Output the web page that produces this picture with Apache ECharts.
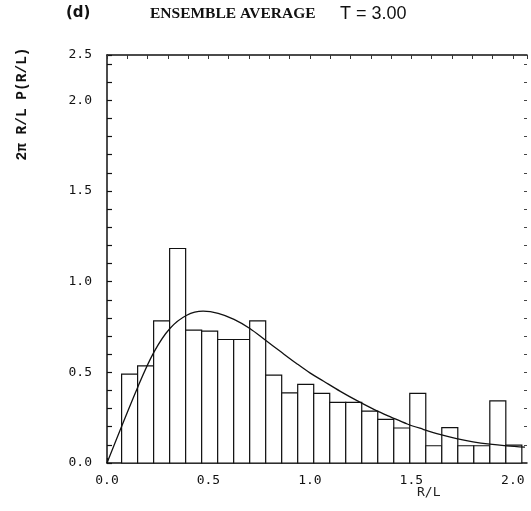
<!DOCTYPE html>
<html>
<head>
<meta charset="utf-8">
<script src="https://cdn.jsdelivr.net/npm/echarts@6/dist/echarts.min.js"></script>
<style>
  html, body { margin: 0; padding: 0; background: #fff; }
  #chart { width: 531px; height: 511px; }
</style>
</head>
<body>
<div id="chart"></div>
<script>
// ---- data ----
const binStart = 0.072;      // left edge of the first histogram bin (R/L)
const binWidth = 0.0789;     // width of each bin (R/L)
const barValues = [0.49, 0.536, 0.784, 1.183, 0.733, 0.727, 0.681, 0.681, 0.784, 0.485,
                   0.387, 0.434, 0.384, 0.334, 0.334, 0.286, 0.241, 0.193, 0.384, 0.095,
                   0.195, 0.095, 0.095, 0.343, 0.099];
const curveX = [0, 0.154, 0.232, 0.31, 0.393, 0.474, 0.548, 0.626, 0.704, 0.78, 0.857, 0.934,
                1.0, 1.066, 1.15, 1.23, 1.32, 1.402, 1.48, 1.558, 1.64, 1.723, 1.804, 1.887, 1.969, 2.06];
const curveY = [0, 0.425, 0.613, 0.742, 0.815, 0.837, 0.825, 0.792, 0.742, 0.678, 0.613, 0.549,
                0.497, 0.452, 0.395, 0.345, 0.293, 0.252, 0.215, 0.186, 0.158, 0.135, 0.117, 0.104, 0.095, 0.088];
const xTickLabels = ['0.0', '0.5', '1.0', '1.5', '2.0'];
const yTickLabels = ['0.0', '0.5', '1.0', '1.5', '2.0'];
const yTopLabel = '2.5';
const titleText = 'ENSEMBLE AVERAGE';
const tempText = 'T = 3.00';
const panelText = '(d)';
const yName = '2\u03C0 R/L P(R/L)';
const xName = 'R/L';

// ---- build options ----
const barData = barValues.map((v, i) => [binStart + i * binWidth, binStart + (i + 1) * binWidth, v]);
const curveData = curveX.map((x, i) => [x, curveY[i]]);
const isHalf = v => Math.abs(v * 2 - Math.round(v * 2)) < 1e-6;
const labelFont = { fontFamily: 'DejaVu Sans Mono', fontSize: 13, color: '#111' };

const chart = echarts.init(document.getElementById('chart'), null, { renderer: 'canvas' });
chart.setOption({
  animation: false,
  backgroundColor: '#fff',
  grid: { left: 107, right: 4, top: 55, bottom: 48, containLabel: false },
  xAxis: [{
    type: 'value', min: 0, max: 2.07, interval: 0.1,
    axisLine: { show: true, onZero: false, lineStyle: { color: '#111', width: 1.5 } },
    axisTick: { show: true, inside: true, length: 5, lineStyle: { color: '#111', width: 1.2 } },
    splitLine: { show: false },
    axisLabel: Object.assign({
      margin: 11, showMaxLabel: false,
      formatter: v => {
        if (!isHalf(v)) return '';
        const idx = Math.round(v * 2);
        return idx < xTickLabels.length ? xTickLabels[idx] : '';
      }
    }, labelFont)
  }, {
    type: 'value', position: 'top', min: 0, max: 2.07, interval: 0.1,
    axisLine: { show: true, onZero: false, lineStyle: { color: '#111', width: 1.5 } },
    axisTick: { show: true, inside: true, length: 4, lineStyle: { color: '#333', width: 1 } },
    splitLine: { show: false }, axisLabel: { show: false }
  }],
  yAxis: [{
    type: 'value', min: 0, max: 2.25, interval: 0.1,
    axisLine: { show: true, onZero: false, lineStyle: { color: '#111', width: 1.5 } },
    axisTick: { show: true, inside: true, length: 5, lineStyle: { color: '#111', width: 1.2 } },
    splitLine: { show: false },
    axisLabel: Object.assign({
      margin: 15, showMaxLabel: true,
      formatter: v => {
        if (Math.abs(v - 2.25) < 1e-6) return yTopLabel;
        if (!isHalf(v)) return '';
        const idx = Math.round(v * 2);
        return idx < yTickLabels.length ? yTickLabels[idx] : '';
      }
    }, labelFont)
  }, {
    type: 'value', position: 'right', min: 0, max: 2.25, interval: 0.1,
    axisLine: { show: false, onZero: false },
    axisTick: { show: true, inside: true, length: 3, lineStyle: { color: '#444', width: 1 } },
    splitLine: { show: false }, axisLabel: { show: false }
  }],
  series: [{
    type: 'custom',
    xAxisIndex: 0, yAxisIndex: 0,
    encode: { x: [0, 1], y: 2 },
    data: barData,
    z: 2,
    renderItem: (params, api) => {
      const p0 = api.coord([api.value(0), api.value(2)]);
      const p1 = api.coord([api.value(1), 0]);
      return {
        type: 'rect',
        shape: { x: p0[0], y: p0[1], width: p1[0] - p0[0], height: p1[1] - p0[1] },
        style: { fill: '#fff', stroke: '#111', lineWidth: 1.2 }
      };
    }
  }, {
    type: 'line',
    xAxisIndex: 0, yAxisIndex: 0,
    data: curveData,
    smooth: 0.35,
    showSymbol: false,
    z: 5,
    lineStyle: { color: '#111', width: 1.3 }
  }],
  graphic: [
    { type: 'text', left: 66, top: 6, style: { text: panelText, font: 'bold 15px "DejaVu Sans"', fill: '#111' } },
    { type: 'text', left: 150, top: 6, style: { text: titleText, font: 'bold 15.5px "Liberation Serif"', fill: '#111' } },
    { type: 'text', left: 340, top: 5, style: { text: tempText, font: '18px "Liberation Sans"', fill: '#111' } },
    { type: 'text', x: 22, y: 104, rotation: Math.PI / 2,
      style: { text: yName, font: 'bold 14.5px "Liberation Mono"', fill: '#111', align: 'center', verticalAlign: 'middle' } },
    { type: 'text', left: 417, top: 486, style: { text: xName, font: '13px "DejaVu Sans Mono"', fill: '#222' } }
  ]
});
</script>
</body>
</html>
